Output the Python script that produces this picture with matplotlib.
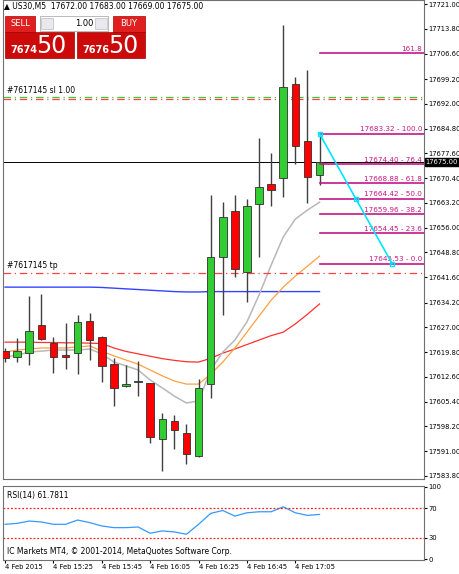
import matplotlib
matplotlib.use("Agg")
import matplotlib.pyplot as plt
from matplotlib.patches import Rectangle

# OHLC of the 5-minute bars, 4 Feb 2015 15:05 .. 17:15
opens = [17620, 17618.5, 17619.5, 17627.7, 17622.5, 17619, 17619.5, 17628.9, 17624.2, 17616.3,
         17610, 17611.1, 17610.8, 17594.5, 17599.8, 17596.3, 17589.6, 17610.5, 17647.5, 17660.8,
         17643.1, 17662.9, 17668.7, 17670.4, 17697.7, 17681.2, 17671.3]
highs = [17621, 17624, 17636, 17636.7, 17624.2, 17628.3, 17630.6, 17631.2, 17624.5, 17618,
         17616, 17617.2, 17610.9, 17602.1, 17601.5, 17599, 17612, 17665.5, 17663.4, 17665.5,
         17664.3, 17682.0, 17677.7, 17714.9, 17699.8, 17701.8, 17682.9]
lows = [17617, 17617, 17616, 17623.4, 17613.7, 17614.9, 17613.4, 17617.5, 17611.1, 17604.1,
        17609.7, 17607, 17593.4, 17585.3, 17591.6, 17587.3, 17589.3, 17606.5, 17630.6, 17641.6,
        17634.4, 17647.5, 17662.3, 17664.9, 17674.5, 17663.2, 17668.4]
closes = [17618, 17620, 17626, 17623.6, 17618.4, 17618.4, 17628.6, 17623.3, 17615.8, 17609.4,
          17610.5, 17611.4, 17595.1, 17600.4, 17597.2, 17590.2, 17609.4, 17647.5, 17659.1, 17644.0,
          17662.3, 17667.8, 17666.9, 17696.9, 17679.7, 17670.7, 17675.0]

ma_gray = [17618.4, 17618.9, 17619.8, 17620.1, 17620.4, 17620.4, 17620.4, 17620.7, 17619.3, 17616.9,
           17615.8, 17614.6, 17611.7, 17609.4, 17607.0, 17605.0, 17605.6, 17614.6, 17619.8, 17623.3,
           17628.6, 17636.4, 17645.1, 17653.3, 17658.5, 17661.1, 17663.4]
ma_orange = [17619.8, 17620.4, 17620.7, 17621.0, 17621.0, 17621.0, 17621.3, 17621.6, 17620.1, 17618.7,
             17617.5, 17616.3, 17614.6, 17612.9, 17611.4, 17610.5, 17610.5, 17613.4, 17616.9, 17621.0,
             17625.6, 17630.3, 17634.9, 17638.7, 17641.9, 17644.8, 17647.7]
ma_red = [17622.7, 17622.7, 17622.7, 17622.6, 17622.6, 17622.5, 17622.5, 17622.4, 17622.3, 17621,
          17620, 17619.3, 17618.6, 17617.9, 17617.4, 17617, 17616.9, 17618, 17619.5, 17620.7,
          17622, 17623.3, 17624.6, 17625.6, 17628, 17630.8, 17633.8]
ma_blue = [17638.7, 17638.7, 17638.7, 17638.7, 17638.7, 17638.7, 17638.7, 17638.7, 17638.6, 17638.4,
           17638.2, 17638.0, 17637.8, 17637.6, 17637.4, 17637.3, 17637.3, 17637.4, 17637.4, 17637.4,
           17637.4, 17637.4, 17637.4, 17637.4, 17637.4, 17637.4, 17637.4]

rsi = [48.2, 49.5, 52.7, 51.4, 48.2, 48.2, 54.1, 50.5, 45.9, 43.6, 43.6, 44.5, 35.9, 39.1,
       37.7, 34.5, 48.2, 63.2, 67.3, 59.5, 64.1, 65.5, 65.5, 72.3, 64.1, 60.5, 61.8]

fib_prices = [17706.67, 17683.32, 17674.40, 17668.88, 17664.42, 17659.96, 17654.45, 17645.53]
fib_labels = ["161.8", "17683.32 - 100.0", "17674.40 - 76.4", "17668.88 - 61.8",
              "17664.42 - 50.0", "17659.96 - 38.2", "17654.45 - 23.6", "17645.53 - 0.0"]

price_ticks = [17721.00, 17713.80, 17706.60, 17699.20, 17692.00, 17684.80, 17677.60, 17670.40,
               17663.20, 17656.00, 17648.80, 17641.60, 17634.20, 17627.00, 17619.80, 17612.60,
               17605.40, 17598.20, 17591.00, 17583.80]
time_ticks = [0, 4, 8, 12, 16, 20, 24]
time_labels = ["4 Feb 2015", "4 Feb 15:25", "4 Feb 15:45", "4 Feb 16:05",
               "4 Feb 16:25", "4 Feb 16:45", "4 Feb 17:05"]

SL_PRICE = 17693.8
TP_PRICE = 17642.8
LAST_PRICE = 17675.00
FS = 5.5
AXFS = 4.9
FIB_COLOR = "#C71585"

fig = plt.figure(figsize=(4.6, 5.74), dpi=100)
ax = fig.add_axes([0.0065, 0.1655, 0.915, 0.8345])
ax_rsi = fig.add_axes([0.0065, 0.0244, 0.915, 0.1289])

n = len(opens)
xs = list(range(n))
ax.set_xlim(-0.17, 34.63)
ax.set_ylim(17582.9, 17722.2)

# moving averages
ax.plot(xs, ma_blue, color="#3344FF", lw=1)
ax.plot(xs, ma_red, color="#FF3030", lw=0.9)
ax.plot(xs, ma_orange, color="#FFA040", lw=0.9)
ax.plot(xs, ma_gray, color="#B8B8B8", lw=1.1)

# candles
for i in xs:
    up = closes[i] >= opens[i]
    ax.vlines(i, lows[i], highs[i], color="#404040", lw=1, zorder=3)
    bottom = min(opens[i], closes[i])
    height = max(abs(closes[i] - opens[i]), 0.4)
    ax.bar(i, height, bottom=bottom, width=0.62, color="#32CD32" if up else "#FF0000",
           edgecolor="#303030", linewidth=0.6, zorder=4)

# order lines
ax.axhline(SL_PRICE + 0.3, color="#33CC33", lw=0.9, ls=(0, (6, 3, 1, 3)))
ax.axhline(SL_PRICE - 0.3, color="#FF4040", lw=0.9, ls=(0, (6, 3, 1, 3)))
ax.axhline(TP_PRICE, color="#FF4040", lw=0.9, ls=(0, (6, 3, 1, 3)))
ax.axhline(LAST_PRICE, color="black", lw=0.7)
ax.text(0.2, SL_PRICE + 0.8, "#7617145 sl 1.00", fontsize=FS, va="bottom")
ax.text(0.2, TP_PRICE + 0.8, "#7617145 tp", fontsize=FS, va="bottom")

# fibonacci
for p, lab in zip(fib_prices, fib_labels):
    ax.plot([26, 34.6], [p, p], color=FIB_COLOR, lw=1.2, zorder=5)
    ax.text(34.5, p + 0.4, lab, color=FIB_COLOR, fontsize=FS - 0.3, ha="right", va="bottom")
trend_x = [26, 29, 32]
trend_y = [17683.32, 17664.42, 17645.53]
ax.plot(trend_x, trend_y, color="#00E5FF", lw=1.2, zorder=6)
ax.plot(trend_x, trend_y, ls="none", marker="s", ms=3, mfc="none", mec="#00E5FF", zorder=6)

ax.yaxis.tick_right()
ax.set_yticks(price_ticks)
ax.set_yticklabels([f"{t:.2f}" for t in price_ticks], fontsize=AXFS)
ax.tick_params(axis="y", length=2, pad=1.5)
ax.set_xticks([])
ax.text(1.004, LAST_PRICE, f"{LAST_PRICE:.2f}", transform=ax.get_yaxis_transform(),
        fontsize=AXFS, color="white", va="center", ha="left",
        bbox=dict(boxstyle="square,pad=0.12", fc="black", ec="black"))

# RSI
ax_rsi.set_xlim(-0.17, 34.63)
ax_rsi.set_ylim(-1, 101)
ax_rsi.plot(xs, rsi, color="#3399FF", lw=0.9)
ax_rsi.axhline(70, color="#FF2020", lw=0.9, ls=(0, (1.5, 1.5)))
ax_rsi.axhline(30, color="#FF2020", lw=0.9, ls=(0, (1.5, 1.5)))
ax_rsi.yaxis.tick_right()
ax_rsi.set_yticks([100, 70, 30, 0])
ax_rsi.set_yticklabels(["100", "70", "30", "0"], fontsize=AXFS)
ax_rsi.tick_params(axis="y", length=2, pad=1.5)
ax_rsi.set_xticks(time_ticks)
ax_rsi.set_xticklabels(time_labels, fontsize=AXFS, ha="left")
ax_rsi.tick_params(axis="x", length=2, pad=1)
ax_rsi.text(0.01, 0.93, "RSI(14) 61.7811", transform=ax_rsi.transAxes, fontsize=FS, va="top")
ax_rsi.text(0.01, 0.05, "IC Markets MT4, © 2001-2014, MetaQuotes Software Corp.",
            transform=ax_rsi.transAxes, fontsize=FS, va="bottom")

for a in (ax, ax_rsi):
    for s in a.spines.values():
        s.set_color("#707070")
        s.set_linewidth(0.8)

# header and trade panel
W, H = 460, 574


def box(x, y, w, h, **kw):
    fig.patches.append(Rectangle((x / W, 1 - (y + h) / H), w / W, h / H,
                                 transform=fig.transFigure, **kw))


def ftext(x, y, s, **kw):
    fig.text(x / W, 1 - y / H, s, **kw)


ftext(4, 7, "▲ US30,M5  17672.00 17683.00 17669.00 17675.00", fontsize=FS, va="center")
box(5, 16, 30, 16, fc="#E02020", ec="#B00000", lw=0.5)
box(113, 16, 32, 16, fc="#E02020", ec="#B00000", lw=0.5)
box(40, 16, 68, 15, fc="white", ec="#A0A0A0", lw=0.5)
box(41, 18, 12, 11, fc="#E8E8EE", ec="#B0B0B0", lw=0.4)
box(95, 18, 12, 11, fc="#E8E8EE", ec="#B0B0B0", lw=0.4)
box(5, 32, 69, 26, fc="#CC0A0A", ec="#A00000", lw=0.5)
box(77, 32, 68, 26, fc="#CC0A0A", ec="#A00000", lw=0.5)
ftext(20, 24, "SELL", fontsize=FS + 0.5, color="white", ha="center", va="center")
ftext(129, 24, "BUY", fontsize=FS + 0.5, color="white", ha="center", va="center")
ftext(93, 24, "1.00", fontsize=FS + 0.5, ha="right", va="center")
ftext(10, 50, "7674", fontsize=FS + 1.5, color="white", weight="bold", va="center")
ftext(36, 46, "50", fontsize=17, color="white", va="center")
ftext(82, 50, "7676", fontsize=FS + 1.5, color="white", weight="bold", va="center")
ftext(108, 46, "50", fontsize=17, color="white", va="center")

fig.savefig("out.png", dpi=100)
